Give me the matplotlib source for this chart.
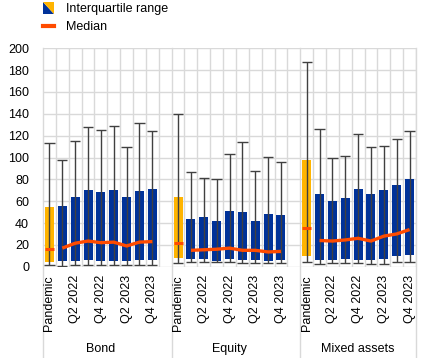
import matplotlib
matplotlib.use("Agg")
import matplotlib.pyplot as plt
from matplotlib.legend_handler import HandlerBase
from matplotlib.patches import Polygon, Patch
from matplotlib.lines import Line2D
import matplotlib.transforms as mtransforms

# Datos
grupos = ["Bond", "Equity", "Mixed assets"]
periodos = ["Pandemic", "Q1 2022", "Q2 2022", "Q3 2022", "Q4 2022",
            "Q1 2023", "Q2 2023", "Q3 2023", "Q4 2023"]
etiquetas = ["Pandemic", "", "Q2 2022", "", "Q4 2022", "", "Q2 2023", "", "Q4 2023"]

q1 = {
    "Bond":         [4, 5, 5.5, 6.5, 5.5, 5.5, 5.5, 6, 6.5],
    "Equity":       [8, 7, 7, 5, 7, 6.5, 6.5, 5.5, 6.5],
    "Mixed assets": [10, 6.5, 6.5, 7.5, 6.5, 6.5, 7.5, 9.5, 10.5],
}
q3 = {
    "Bond":         [55, 56, 64, 70, 68, 70, 64, 69, 71],
    "Equity":       [64, 44, 45.5, 42, 51, 50, 42, 48, 47],
    "Mixed assets": [98, 66.5, 60, 63, 71, 66.5, 70, 74.5, 80],
}
mediana = {
    "Bond":         [16.5, 17, 21.5, 23.5, 22, 22.5, 19, 22.5, 23],
    "Equity":       [22, 15, 15.5, 16, 17, 15, 15, 13.5, 14],
    "Mixed assets": [35.5, 24, 23.5, 24.5, 26, 23.5, 28, 30, 34],
}
minimo = {
    "Bond":         [2, 1, 2, 2, 2, 2, 2, 2, 2],
    "Equity":       [3.5, 4, 4.5, 4.5, 4, 3.5, 3.5, 3.5, 3.5],
    "Mixed assets": [4, 2.5, 3.5, 3.5, 3.5, 2.5, 2.5, 4, 4],
}
maximo = {
    "Bond":         [113, 98, 115.5, 127.5, 125, 129, 110, 131.5, 124.5],
    "Equity":       [139.5, 87, 81.5, 80, 103.5, 114.5, 88, 100.5, 96],
    "Mixed assets": [187, 126, 100, 101.5, 121.5, 110, 110.5, 117, 124.5],
}

AZUL = "#003299"
AMARILLO = "#FFB400"
NARANJA = "#FF4B00"
GRIS = "#404040"
REJILLA = "#d9d9d9"


class HandlerTriangulos(HandlerBase):
    def create_artists(self, legend, orig_handle, xdescent, ydescent,
                       width, height, fontsize, trans):
        x0, y0 = -xdescent, -ydescent - 1
        w, h = width, height + 2
        abajo = Polygon([[x0, y0 + h], [x0, y0], [x0 + w, y0]],
                        closed=True, fc=AZUL, ec="none", transform=trans)
        arriba = Polygon([[x0, y0 + h], [x0 + w, y0 + h], [x0 + w, y0]],
                         closed=True, fc=AMARILLO, ec="none", transform=trans)
        return [abajo, arriba]


plt.rcParams["font.family"] = ["Liberation Sans", "DejaVu Sans"]
plt.rcParams["font.size"] = 9

fig = plt.figure(figsize=(4.37, 3.58), dpi=100)
ax = fig.add_axes([43 / 437, 1 - 266.7 / 358, 373 / 437, 218.4 / 358])

ancho = 0.7
xticks, xlabels = [], []
inicio = 0
for g in grupos:
    xs = [inicio + i for i in range(len(periodos))]
    colores = [AMARILLO] + [AZUL] * (len(periodos) - 1)
    alturas = [a - b for a, b in zip(q3[g], q1[g])]
    ax.bar(xs, alturas, bottom=q1[g], width=ancho, color=colores, zorder=2)
    ax.vlines(xs, minimo[g], maximo[g], color=GRIS, lw=1, zorder=3)
    ax.hlines(minimo[g], [x - 0.4 for x in xs], [x + 0.4 for x in xs], color=GRIS, lw=1, zorder=3)
    ax.hlines(maximo[g], [x - 0.4 for x in xs], [x + 0.4 for x in xs], color=GRIS, lw=1, zorder=3)
    # mediana pandemia
    ax.hlines(mediana[g][0], xs[0] - ancho / 2, xs[0] + ancho / 2, color=NARANJA, lw=2.2, zorder=4)
    # mediana trimestral
    ax.plot(xs[1:], mediana[g][1:], color=NARANJA, lw=2.4, zorder=4, solid_capstyle="butt")
    xticks += xs
    xlabels += etiquetas
    ax.text(inicio + 4, -0.375, g, transform=mtransforms.blended_transform_factory(ax.transData, ax.transAxes),
            ha="center", va="center", fontsize=9)
    inicio += len(periodos) + 1

ax.set_xlim(-0.5, 28.5)
ax.set_ylim(0, 200)
ax.set_yticks(range(0, 201, 20))
ax.set_xticks(xticks)
ax.set_xticklabels(xlabels, rotation=90)
ax.tick_params(axis="both", length=0, labelsize=9)
ax.tick_params(axis="y", pad=10)
ax.tick_params(axis="x", pad=6)
for s in ax.spines.values():
    s.set_visible(False)

# rejilla
for y in range(0, 201, 20):
    ax.axhline(y, color=REJILLA, lw=1, zorder=0)
for k in range(29):
    if k in (9, 19):
        continue
    ax.axvline(k + 0.5, color=REJILLA, lw=1, zorder=0)
# separadores de grupos
for xsep in (-0.5, 9.5, 19.5, 28.5):
    ax.axvline(xsep, ymin=-0.418, ymax=1, color=REJILLA, lw=1, zorder=0, clip_on=False)

handles = [Patch(), Line2D([], [], color=NARANJA, lw=3)]
fig.legend(handles, ["Interquartile range", "Median"],
           handler_map={Patch: HandlerTriangulos()},
           loc="upper left", bbox_to_anchor=(43 / 437, 1 - 3 / 358),
           frameon=False, borderpad=0, borderaxespad=0,
           handlelength=0.85, handleheight=0.8, handletextpad=1.0, labelspacing=0.5,
           fontsize=9)

fig.savefig("out.png", dpi=100)
